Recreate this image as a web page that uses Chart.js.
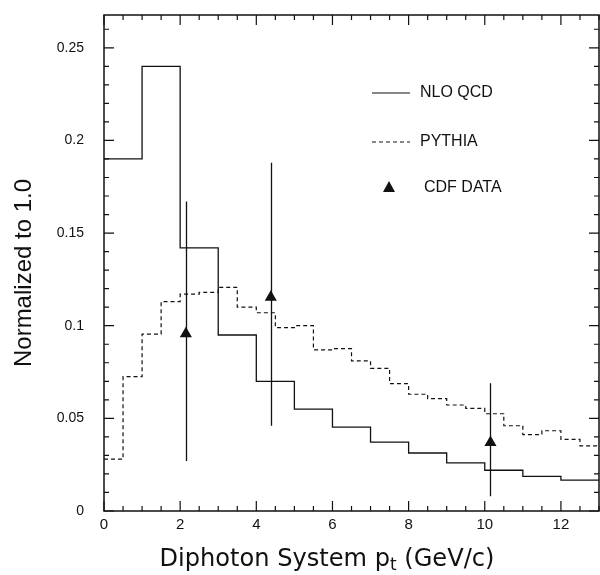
<!DOCTYPE html>
<html>
<head>
<meta charset="utf-8">
<script src="https://cdn.jsdelivr.net/npm/chart.js@4.4.1/dist/chart.umd.min.js"></script>
<style>
  html, body { margin: 0; padding: 0; background: #fff; }
  canvas { display: block; }
</style>
</head>
<body>
<canvas id="pt_chart" width="600" height="575"></canvas>
<script>
(() => {
	// NLO QCD histogram, 1 GeV/c bins
	const nloEdges = [0, 1, 2, 3, 4, 5, 6, 7, 8, 9, 10, 11, 12, 13];
	const nloValues = [0.190, 0.240, 0.142, 0.095, 0.070, 0.055, 0.0453, 0.0372, 0.0313, 0.026, 0.022, 0.0187, 0.0167];

	// PYTHIA histogram, 0.5 GeV/c bins
	const pythiaEdges = [0, 0.5, 1, 1.5, 2, 2.5, 3, 3.5, 4, 4.5, 5, 5.5, 6, 6.5, 7, 7.5, 8, 8.5, 9, 9.5, 10, 10.5, 11, 11.5, 12, 12.5, 13];
	const pythiaValues = [0.028, 0.0725, 0.0955, 0.113, 0.117, 0.118, 0.1207, 0.110, 0.107, 0.099, 0.100, 0.087, 0.0876, 0.081, 0.077, 0.0687, 0.063, 0.0606, 0.0572, 0.0554, 0.0525, 0.046, 0.0412, 0.0433, 0.0387, 0.0352];

	// CDF data with error bars
	const cdfX = [2.15, 4.38, 10.15];
	const cdfY = [0.0956, 0.1153, 0.0370];
	const cdfLow = [0.027, 0.046, 0.008];
	const cdfHigh = [0.167, 0.188, 0.069];

	const xTicks = [0, 2, 4, 6, 8, 10, 12];
	const yTicks = [0, 0.05, 0.1, 0.15, 0.2, 0.25];
	const yTickLabels = ['0', '0.05', '0.1', '0.15', '0.2', '0.25'];

	const INK = '#111';
	const FONT = '"Liberation Sans", Arial, Helvetica, sans-serif';

	// histogram -> step points (last bin value repeated at the upper edge)
	function steps(edges, values) {
		const pts = values.map((v, i) => ({ x: edges[i], y: v }));
		pts.push({ x: edges[edges.length - 1], y: values[values.length - 1] });
		return pts;
	}

	const decorations = {
		id: 'decorations',
		afterDatasetsDraw(chart) {
			const { ctx, scales: { x, y } } = chart;
			ctx.save();
			ctx.strokeStyle = INK;
			ctx.lineWidth = 1.3;
			ctx.beginPath();
			cdfX.forEach((v, i) => {
				const px = Math.round(x.getPixelForValue(v)) + 0.5;
				ctx.moveTo(px, y.getPixelForValue(cdfLow[i]));
				ctx.lineTo(px, y.getPixelForValue(cdfHigh[i]));
			});
			ctx.stroke();
			ctx.restore();
		},
		afterDraw(chart) {
			const { ctx, chartArea: a, scales: { x, y } } = chart;
			ctx.save();
			ctx.strokeStyle = INK;
			ctx.fillStyle = INK;

			// frame
			ctx.lineWidth = 1.5;
			ctx.strokeRect(a.left, a.top, a.right - a.left, a.bottom - a.top);

			// inward ticks on all four sides
			ctx.lineWidth = 1.2;
			ctx.beginPath();
			for (let i = 0; i <= 26; i++) {
				const px = x.getPixelForValue(i * 0.5);
				const len = i % 4 === 0 ? 10 : 5;
				ctx.moveTo(px, a.bottom); ctx.lineTo(px, a.bottom - len);
				ctx.moveTo(px, a.top); ctx.lineTo(px, a.top + len);
			}
			for (let i = 0; i <= 26; i++) {
				const py = y.getPixelForValue(i / 100);
				const len = i % 5 === 0 ? 10 : 5;
				ctx.moveTo(a.left, py); ctx.lineTo(a.left + len, py);
				ctx.moveTo(a.right, py); ctx.lineTo(a.right - len, py);
			}
			ctx.stroke();

			// y title
			ctx.save();
			ctx.translate(24, 273);
			ctx.rotate(-Math.PI / 2);
			ctx.font = '24px ' + FONT;
			ctx.textAlign = 'center';
			ctx.textBaseline = 'middle';
			ctx.fillText('Normalized to 1.0', 0, 0);
			ctx.restore();

			// x title with subscript t, sized to span the same width as the original
			const fam = '"DejaVu Sans", Lato, sans-serif';
			const p1 = 'Diphoton System p', sub = 't', p2 = ' (GeV/c)';
			ctx.font = '22px ' + fam;
			let wAll = ctx.measureText(p1 + p2).width + ctx.measureText(sub).width * 0.7;
			const size = 22 * 335 / wAll;
			const big = size.toFixed(1) + 'px ' + fam;
			const small = (size * 0.7).toFixed(1) + 'px ' + fam;
			ctx.font = big;
			const w1 = ctx.measureText(p1).width, w3 = ctx.measureText(p2).width;
			ctx.font = small;
			const w2 = ctx.measureText(sub).width;
			let tx = 327 - (w1 + w2 + w3) / 2;
			const base = 566;
			ctx.textAlign = 'left';
			ctx.textBaseline = 'alphabetic';
			ctx.font = big; ctx.fillText(p1, tx, base); tx += w1;
			ctx.font = small; ctx.fillText(sub, tx, base + 4); tx += w2;
			ctx.font = big; ctx.fillText(p2, tx, base);

			// legend
			ctx.font = '16px ' + FONT;
			ctx.textBaseline = 'middle';
			ctx.lineWidth = 1.2;
			ctx.beginPath(); ctx.moveTo(372, 93); ctx.lineTo(410, 93); ctx.stroke();
			ctx.fillText('NLO QCD', 420, 93);
			ctx.setLineDash([4, 3]);
			ctx.beginPath(); ctx.moveTo(372, 142); ctx.lineTo(410, 142); ctx.stroke();
			ctx.setLineDash([]);
			ctx.fillText('PYTHIA', 420, 142);
			ctx.beginPath();
			ctx.moveTo(389, 181); ctx.lineTo(395, 192); ctx.lineTo(383, 192); ctx.closePath();
			ctx.fill();
			ctx.fillText('CDF DATA', 424, 188);
			ctx.restore();
		}
	};

	const config = {
		type: 'line',
		data: {
			datasets: [
				{
					label: 'NLO QCD',
					data: steps(nloEdges, nloValues),
					stepped: 'before',
					borderColor: INK,
					borderWidth: 1.3,
					pointRadius: 0,
					fill: false
				},
				{
					label: 'PYTHIA',
					data: steps(pythiaEdges, pythiaValues),
					stepped: 'before',
					borderColor: INK,
					borderWidth: 1.2,
					borderDash: [4, 3],
					pointRadius: 0,
					fill: false
				},
				{
					label: 'CDF DATA',
					data: cdfX.map((v, i) => ({ x: v, y: cdfY[i] })),
					showLine: false,
					pointStyle: 'triangle',
					pointRadius: 7,
					backgroundColor: INK,
					borderColor: INK,
					borderWidth: 0
				}
			]
		},
		options: {
			responsive: false,
			animation: false,
			events: [],
			layout: { autoPadding: false, padding: { top: 15, right: 1, left: 0, bottom: 0 } },
			plugins: { legend: { display: false }, tooltip: { enabled: false } },
			scales: {
				x: {
					type: 'linear',
					min: 0,
					max: 13,
					grid: { display: false, drawTicks: false },
					border: { display: false },
					afterBuildTicks: (s) => { s.ticks = xTicks.map(v => ({ value: v })); },
					afterFit: (s) => { s.height = 64; s.paddingLeft = 0; s.paddingRight = 0; },
					ticks: {
						autoSkip: false,
						maxRotation: 0,
						padding: 5,
						color: INK,
						font: { family: FONT, size: 15 },
						callback: (v) => String(v)
					}
				},
				y: {
					type: 'linear',
					min: 0,
					max: 0.2677,
					grid: { display: false, drawTicks: false },
					border: { display: false },
					afterBuildTicks: (s) => { s.ticks = yTicks.map(v => ({ value: v })); },
					afterFit: (s) => { s.width = 104; s.paddingTop = 0; s.paddingBottom = 0; },
					ticks: {
						autoSkip: false,
						padding: 20,
						color: INK,
						font: { family: FONT, size: 14 },
						callback: (v, i) => yTickLabels[i]
					}
				}
			}
		},
		plugins: [decorations]
	};

	new Chart(document.getElementById('pt_chart'), config);
})();
</script>
</body>
</html>
